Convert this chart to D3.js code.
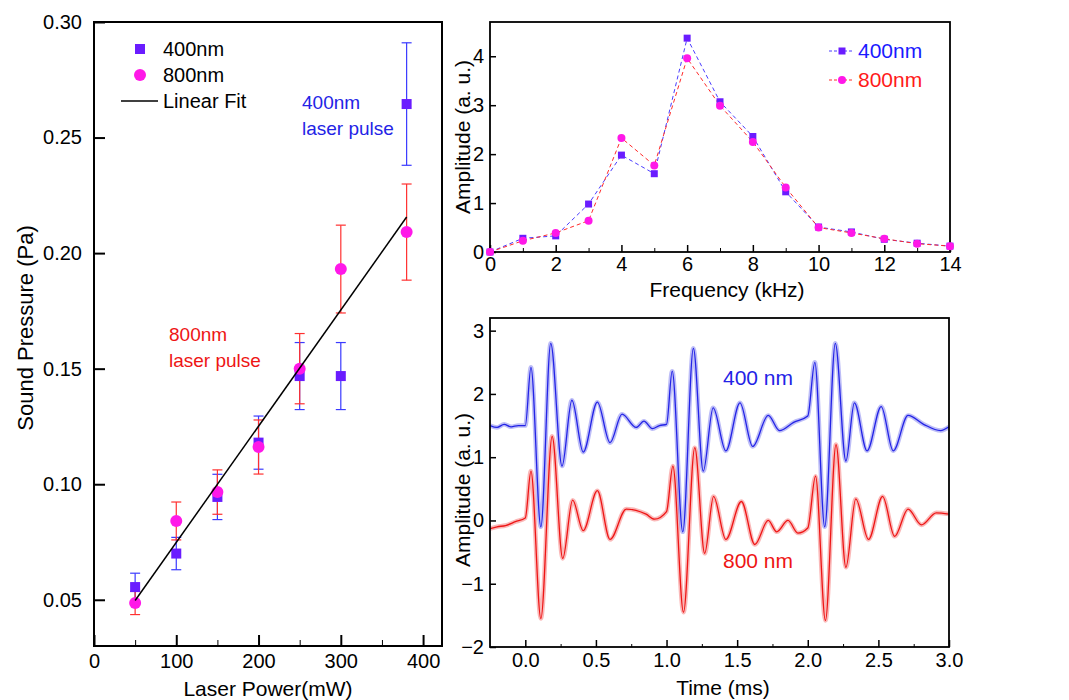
<!DOCTYPE html>
<meta charset="utf-8">
<style>
body { margin: 0; background: #fff; font-family: Arial, "Liberation Sans", sans-serif; }
.axis path, .axis line { stroke: #000; }
.axis text { font-size: 20px; fill: #000; font-family: Arial, "Liberation Sans", sans-serif; }
</style>
<body>
<script src="https://d3js.org/d3.v7.min.js"></script>
<script>

// ---- left panel: sound pressure vs laser power ----
var power = [50, 100, 150, 200, 250, 300, 380];
var p400 = [0.0555, 0.0700, 0.0945, 0.1180, 0.1468, 0.1468, 0.2645];
var e400 = [0.0060, 0.0070, 0.0098, 0.0115, 0.0145, 0.0145, 0.0265];
var p800 = [0.0486, 0.0841, 0.0966, 0.1161, 0.1500, 0.1931, 0.2091];
var e800 = [0.0050, 0.0082, 0.0096, 0.0117, 0.0152, 0.0190, 0.0208];
var fitX = [50, 380];
var fitY = [0.0497, 0.2156];

// ---- top right: spectrum ----
var freq = [0, 1, 2, 3, 4, 5, 6, 7, 8, 9, 10, 11, 12, 13, 14];
var amp400 = [0, 0.28, 0.33, 0.98, 1.98, 1.60, 4.37, 3.07, 2.36, 1.23, 0.51, 0.41, 0.26, 0.18, 0.12];
var amp800 = [0, 0.23, 0.39, 0.64, 2.33, 1.77, 3.96, 2.99, 2.25, 1.32, 0.50, 0.39, 0.27, 0.17, 0.12];

// ---- bottom right: waveforms ----
var t400 = [-0.25, -0.2, -0.15, -0.1, -0.05, 0.0, 0.04, 0.11, 0.18, 0.26, 0.33, 0.41, 0.51, 0.60, 0.685, 0.785, 0.84, 0.90, 0.95, 1.0,
  1.04, 1.115, 1.19, 1.26, 1.33, 1.42, 1.52, 1.61, 1.72, 1.80, 1.9, 2.0,
  2.05, 2.12, 2.195, 2.27, 2.33, 2.42, 2.52, 2.605, 2.71, 2.82, 2.94, 3.0];
var v400 = [1.50, 1.47, 1.52, 1.48, 1.50, 1.50, 2.42, -0.10, 2.80, 0.86, 1.90, 1.08, 1.87, 1.23, 1.68, 1.47, 1.57, 1.45, 1.50, 1.52,
  2.36, -0.18, 2.72, 0.78, 1.78, 1.10, 1.86, 1.17, 1.66, 1.42, 1.55, 1.65,
  2.50, -0.10, 2.80, 0.94, 1.86, 1.10, 1.80, 1.10, 1.66, 1.52, 1.42, 1.48];
var t800 = [-0.25, -0.2, -0.14, -0.07, 0.0, 0.04, 0.11, 0.19, 0.265, 0.335, 0.41, 0.51, 0.60, 0.715, 0.855, 0.915, 1.0,
  1.045, 1.12, 1.2, 1.27, 1.333, 1.42, 1.53, 1.625, 1.72, 1.78, 1.86, 1.93, 2.0,
  2.055, 2.125, 2.2, 2.27, 2.34, 2.43, 2.53, 2.615, 2.71, 2.805, 2.91, 3.0];
var v800 = [-0.13, -0.10, -0.08, -0.02, 0.04, 0.78, -1.55, 1.33, -0.60, 0.32, -0.16, 0.47, -0.30, 0.18, 0.10, 0.02, 0.14,
  0.86, -1.45, 1.15, -0.52, 0.38, -0.30, 0.30, -0.38, 0.00, -0.18, 0.00, -0.20, -0.12,
  0.70, -1.58, 1.20, -0.74, 0.34, -0.30, 0.38, -0.25, 0.18, -0.07, 0.12, 0.10];

var C400 = "#6a1cff", C800 = "#ff18e8", BLUE = "#2323e6", RED = "#ee1515";

var svg = d3.select("body").append("svg")
  .attr("width", 1069).attr("height", 700);

function frame(g, w, h, sw) {
  g.append("rect").attr("x", 0).attr("y", 0).attr("width", w).attr("height", h)
    .attr("fill", "none").attr("stroke", "#000").attr("stroke-width", sw);
}
function label(x, y, txt, opts) {
  opts = opts || {};
  var t = svg.append("text").attr("x", x).attr("y", y)
    .attr("text-anchor", opts.anchor || "middle")
    .style("font-size", (opts.size || 21) + "px")
    .style("fill", opts.color || "#000")
    .text(txt);
  if (opts.rotate) t.attr("transform", "rotate(-90," + x + "," + y + ")");
  return t;
}

// ================= LEFT PANEL =================
var L = {x: 94, y: 22, w: 348, h: 624};
var gL = svg.append("g").attr("transform", "translate(" + L.x + "," + L.y + ")");
var xL = d3.scaleLinear().domain([0, 423]).range([0, L.w]);
var yL = d3.scaleLinear().domain([0.03, 0.30]).range([L.h, 0]);

gL.append("g").attr("class", "axis").attr("transform", "translate(0," + L.h + ")")
  .call(d3.axisBottom(xL).tickValues([50, 150, 250, 350]).tickSize(-6).tickFormat(""))
  .call(function(g) { g.select(".domain").remove(); });
gL.append("g").attr("class", "axis").attr("transform", "translate(0," + L.h + ")")
  .call(d3.axisBottom(xL).tickValues([0, 100, 200, 300, 400]).tickSize(-11).tickPadding(8).tickFormat(d3.format("d")))
  .call(function(g) { g.select(".domain").remove(); g.selectAll("line").attr("stroke-width", 2); });
gL.append("g").attr("class", "axis")
  .call(d3.axisLeft(yL).tickValues([0.05, 0.10, 0.15, 0.20, 0.25, 0.30]).tickSize(-11).tickPadding(12).tickFormat(d3.format(".2f")))
  .call(function(g) { g.select(".domain").remove(); g.selectAll("line").attr("stroke-width", 2); });
frame(gL, L.w, L.h, 2);

// error bars
function errBars(g, xs, ys, es, color, xs2, ys2) {
  var sel = g.append("g").selectAll("g").data(xs).enter().append("g");
  sel.append("line").attr("x1", function(d) { return xs2(d); }).attr("x2", function(d) { return xs2(d); })
    .attr("y1", function(d, i) { return ys2(ys[i] - es[i]); }).attr("y2", function(d, i) { return ys2(ys[i] + es[i]); })
    .attr("stroke", color).attr("stroke-width", 1.2);
  [-1, 1].forEach(function(s) {
    sel.append("line").attr("x1", function(d) { return xs2(d) - 5; }).attr("x2", function(d) { return xs2(d) + 5; })
      .attr("y1", function(d, i) { return ys2(ys[i] + s * es[i]); }).attr("y2", function(d, i) { return ys2(ys[i] + s * es[i]); })
      .attr("stroke", color).attr("stroke-width", 1.2);
  });
}
errBars(gL, power, p400, e400, "#3a3aff", xL, yL);
errBars(gL, power, p800, e800, "#ff3030", xL, yL);

gL.append("g").selectAll("rect").data(power).enter().append("rect")
  .attr("x", function(d) { return xL(d) - 5; })
  .attr("y", function(d, i) { return yL(p400[i]) - 5; })
  .attr("width", 10).attr("height", 10).attr("fill", C400);
gL.append("g").selectAll("circle").data(power).enter().append("circle")
  .attr("cx", function(d) { return xL(d); })
  .attr("cy", function(d, i) { return yL(p800[i]); })
  .attr("r", 6).attr("fill", C800);

gL.append("path").datum(fitX)
  .attr("d", d3.line().x(function(d) { return xL(d); }).y(function(d, i) { return yL(fitY[i]); }))
  .attr("stroke", "#000").attr("stroke-width", 1.5).attr("fill", "none");

// legend
svg.append("rect").attr("x", 135).attr("y", 44).attr("width", 10).attr("height", 10).attr("fill", C400);
svg.append("circle").attr("cx", 140).attr("cy", 75).attr("r", 6).attr("fill", C800);
svg.append("line").attr("x1", 121).attr("x2", 158).attr("y1", 101).attr("y2", 101).attr("stroke", "#000").attr("stroke-width", 1.5);
label(163, 56, "400nm", {anchor: "start", size: 20});
label(163, 82, "800nm", {anchor: "start", size: 20});
label(163, 108, "Linear Fit", {anchor: "start", size: 20});

label(302, 109, "400nm", {anchor: "start", size: 19, color: BLUE});
label(302, 135, "laser pulse", {anchor: "start", size: 19, color: BLUE});
label(169, 341, "800nm", {anchor: "start", size: 19, color: RED});
label(169, 367, "laser pulse", {anchor: "start", size: 19, color: RED});

label(33, 328, "Sound Pressure (Pa)", {rotate: true, size: 22});
label(268, 696, "Laser Power(mW)", {size: 21});

// ================= TOP RIGHT =================
var T = {x: 490, y: 22, w: 460, h: 230};
var gT = svg.append("g").attr("transform", "translate(" + T.x + "," + T.y + ")");
var xT = d3.scaleLinear().domain([0, 14]).range([0, T.w]);
var yT = d3.scaleLinear().domain([0, 4.7]).range([T.h, 0]);

gT.append("g").attr("class", "axis").attr("transform", "translate(0," + T.h + ")")
  .call(d3.axisBottom(xT).tickValues(d3.range(1, 14, 2)).tickSize(-4).tickFormat(""))
  .call(function(g) { g.select(".domain").remove(); });
gT.append("g").attr("class", "axis").attr("transform", "translate(0," + T.h + ")")
  .call(d3.axisBottom(xT).tickValues(d3.range(0, 15, 2)).tickSize(-7).tickPadding(5).tickFormat(d3.format("d")))
  .call(function(g) { g.select(".domain").remove(); g.selectAll("line").attr("stroke-width", 1.5); });
gT.append("g").attr("class", "axis")
  .call(d3.axisLeft(yT).tickValues([0, 1, 2, 3, 4]).tickSize(-6).tickPadding(6).tickFormat(d3.format("d")))
  .call(function(g) { g.select(".domain").remove(); g.selectAll("line").attr("stroke-width", 1.5); });
frame(gT, T.w, T.h, 1.8);

var lineT = function(arr) {
  return d3.line().x(function(d, i) { return xT(freq[i]); }).y(function(d) { return yT(d); })(arr);
};
gT.append("path").attr("d", lineT(amp400)).attr("fill", "none").attr("stroke", "#4a3cff")
  .attr("stroke-width", 1).attr("stroke-dasharray", "4,3");
gT.append("path").attr("d", lineT(amp800)).attr("fill", "none").attr("stroke", "#ff2a2a")
  .attr("stroke-width", 1).attr("stroke-dasharray", "4,3");
gT.append("g").selectAll("rect").data(amp400).enter().append("rect")
  .attr("x", function(d, i) { return xT(freq[i]) - 3.5; })
  .attr("y", function(d) { return yT(d) - 3.5; })
  .attr("width", 7).attr("height", 7).attr("fill", C400);
gT.append("g").selectAll("circle").data(amp800).enter().append("circle")
  .attr("cx", function(d, i) { return xT(freq[i]); })
  .attr("cy", function(d) { return yT(d); })
  .attr("r", 4).attr("fill", C800);

// legend
svg.append("line").attr("x1", 829).attr("x2", 854).attr("y1", 51).attr("y2", 51)
  .attr("stroke", "#4a3cff").attr("stroke-dasharray", "3,2");
svg.append("rect").attr("x", 838.5).attr("y", 47.5).attr("width", 7).attr("height", 7).attr("fill", C400);
svg.append("line").attr("x1", 829).attr("x2", 854).attr("y1", 80).attr("y2", 80)
  .attr("stroke", "#ff2a2a").attr("stroke-dasharray", "3,2");
svg.append("circle").attr("cx", 842).attr("cy", 80).attr("r", 4).attr("fill", C800);
label(858, 58, "400nm", {anchor: "start", size: 21, color: "#1a1aff"});
label(858, 87, "800nm", {anchor: "start", size: 21, color: "#ff1a1a"});

label(470, 137, "Amplitude (a. u.)", {rotate: true, size: 21});
label(727, 297, "Frequency (kHz)", {size: 21});

// ================= BOTTOM RIGHT =================
var B = {x: 490, y: 318, w: 459, h: 329};
var gB = svg.append("g").attr("transform", "translate(" + B.x + "," + B.y + ")");
var xB = d3.scaleLinear().domain([-0.25, 3.0]).range([0, B.w]);
var yB = d3.scaleLinear().domain([-2, 3.2]).range([B.h, 0]);

gB.append("g").attr("class", "axis").attr("transform", "translate(0," + B.h + ")")
  .call(d3.axisBottom(xB).tickValues([0.25, 0.75, 1.25, 1.75, 2.25, 2.75]).tickSize(-3).tickFormat(""))
  .call(function(g) { g.select(".domain").remove(); });
gB.append("g").attr("class", "axis").attr("transform", "translate(0," + B.h + ")")
  .call(d3.axisBottom(xB).tickValues([0, 0.5, 1.0, 1.5, 2.0, 2.5, 3.0]).tickSize(-7).tickPadding(6).tickFormat(d3.format(".1f")))
  .call(function(g) { g.select(".domain").remove(); g.selectAll("line").attr("stroke-width", 1.5); });
gB.append("g").attr("class", "axis")
  .call(d3.axisLeft(yB).tickValues([-2, -1, 0, 1, 2, 3]).tickSize(-6).tickPadding(6).tickFormat(d3.format("d")))
  .call(function(g) { g.select(".domain").remove(); g.selectAll("line").attr("stroke-width", 1.5); });

svg.append("clipPath").attr("id", "clipB").append("rect")
  .attr("width", B.w).attr("height", B.h);
var gW = gB.append("g").attr("clip-path", "url(#clipB)");

function wave(ts, vs) {
  return d3.line().curve(d3.curveMonotoneX)
    .x(function(d, i) { return xB(ts[i]); }).y(function(d) { return yB(d); })(vs);
}
[[t800, v800, RED], [t400, v400, BLUE]].forEach(function(s) {
  gW.append("path").attr("d", wave(s[0], s[1])).attr("fill", "none")
    .attr("stroke", s[2]).attr("stroke-width", 4.5).attr("stroke-opacity", 0.3);
  gW.append("path").attr("d", wave(s[0], s[1])).attr("fill", "none")
    .attr("stroke", s[2]).attr("stroke-width", 1.3);
});
frame(gB, B.w, B.h, 1.8);

label(723, 385, "400 nm", {anchor: "start", size: 21, color: BLUE});
label(723, 568, "800 nm", {anchor: "start", size: 21, color: RED});
label(470, 490, "Amplitude (a. u.)", {rotate: true, size: 21});
label(723, 695, "Time (ms)", {size: 21});

</script>
</body>
